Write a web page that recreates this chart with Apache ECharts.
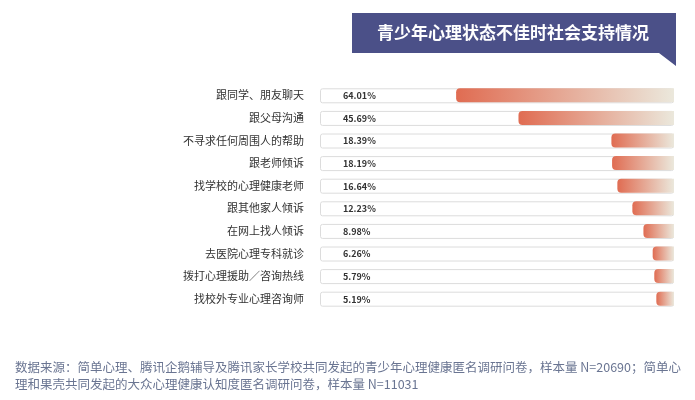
<!DOCTYPE html>
<html><head><meta charset="utf-8">
<script src="https://cdn.jsdelivr.net/npm/echarts@6/dist/echarts.min.js"></script>
<style>html,body{margin:0;padding:0;background:#fff}#c{width:695px;height:400px}</style>
</head><body><div id="c"></div>
<script>
const categories = ['跟同学、朋友聊天','跟父母沟通','不寻求任何周围人的帮助','跟老师倾诉','找学校的心理健康老师','跟其他家人倾诉','在网上找人倾诉','去医院心理专科就诊','拨打心理援助／咨询热线','找校外专业心理咨询师'];
const values = [64.01, 45.69, 18.39, 18.19, 16.64, 12.23, 8.98, 6.26, 5.79, 5.19];
const axisMax = 104;
const title = '青少年心理状态不佳时社会支持情况';
const footLines = ['数据来源：简单心理、腾讯企鹅辅导及腾讯家长学校共同发起的青少年心理健康匿名调研问卷，样本量 N=20690；简单心','理和果壳共同发起的大众心理健康认知度匿名调研问卷，样本量 N=11031'];

const font = '"Noto Sans CJK SC", "Noto Sans", sans-serif';
const chart = echarts.init(document.getElementById('c'));
chart.setOption({
  animation: false,
  grid: {left: 320, right: 21, top: 84, bottom: 90},
  xAxis: {type: 'value', inverse: true, min: 0, max: axisMax, show: false},
  yAxis: {type: 'category', data: categories, inverse: true,
    axisLine: {show: false}, axisTick: {show: false},
    axisLabel: {color: '#333', fontSize: 11, margin: 16, fontFamily: font}},
  series: [
    {type: 'bar', barWidth: 15, barGap: '-100%', silent: true, z: 1,
     data: values.map(() => axisMax),
     itemStyle: {color: '#fff', borderColor: '#dcdcdc', borderWidth: 1, borderRadius: 2},
     label: {show: true, position: 'insideLeft', distance: 23,
       formatter: p => values[p.dataIndex].toFixed(2) + '%',
       color: '#333', fontSize: 9, fontWeight: 'bold', fontFamily: font}},
    {type: 'bar', barWidth: 14, z: 2, data: values,
     itemStyle: {borderRadius: [4, 0, 0, 4],
       color: new echarts.graphic.LinearGradient(0, 0, 1, 0, [
         {offset: 0, color: '#e06c52'}, {offset: 1, color: '#ebe8dc'}])}}
  ],
  graphic: [
    {type: 'polygon', shape: {points: [[352,13],[676,13],[676,66],[659,53],[352,53]]},
     style: {fill: '#4b5088'}},
    {type: 'text', x: 513, y: 33, style: {text: title, fill: '#fff', font: 'bold 17px ' + font, textAlign: 'center', textVerticalAlign: 'middle'}},
    {type: 'text', x: 15, y: 367, style: {text: footLines[0], fill: '#6a7592', font: '12.5px ' + font, textVerticalAlign: 'middle'}},
    {type: 'text', x: 15, y: 384, style: {text: footLines[1], fill: '#6a7592', font: '12.5px ' + font, textVerticalAlign: 'middle'}}
  ]
});
</script></body></html>
